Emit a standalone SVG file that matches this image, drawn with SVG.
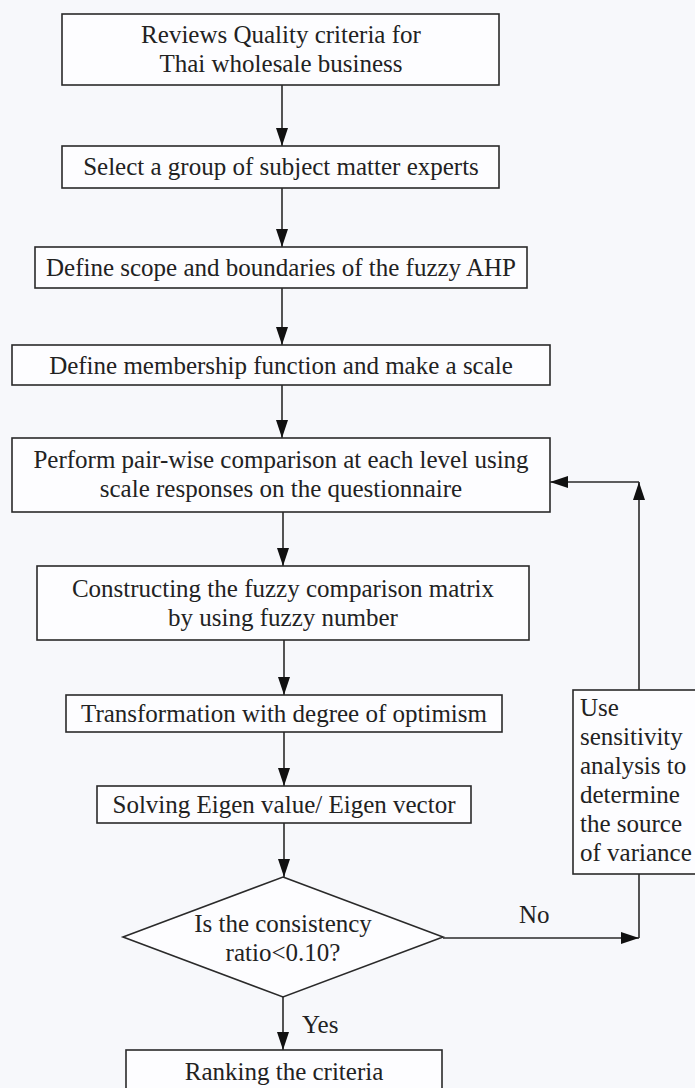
<svg xmlns="http://www.w3.org/2000/svg" width="695" height="1088" viewBox="0 0 695 1088">
<defs>
<style>
.box{fill:#fdfdff;stroke:#2a2a2a;stroke-width:1.6}
.t{font-family:"Liberation Serif","Times New Roman",serif;font-size:25px;fill:#222;text-anchor:middle}
.tl{font-family:"Liberation Serif","Times New Roman",serif;font-size:25px;fill:#222}
.ln{fill:none;stroke:#2a2a2a;stroke-width:1.6}
</style>
<marker id="ah" markerWidth="18" markerHeight="12" refX="18" refY="6" orient="auto" markerUnits="userSpaceOnUse">
<path d="M0,0 L18,6 L0,12 Z" fill="#111"/>
</marker>
</defs>
<rect width="695" height="1088" fill="#f7f8fb"/>
<g id="connectors">
<line class="ln" x1="282" y1="85" x2="282" y2="146" marker-end="url(#ah)"/>
<line class="ln" x1="282" y1="188" x2="282" y2="247" marker-end="url(#ah)"/>
<line class="ln" x1="282" y1="288" x2="282" y2="345" marker-end="url(#ah)"/>
<line class="ln" x1="282" y1="385" x2="282" y2="438" marker-end="url(#ah)"/>
<line class="ln" x1="283" y1="512" x2="283" y2="566" marker-end="url(#ah)"/>
<line class="ln" x1="284" y1="640" x2="284" y2="695" marker-end="url(#ah)"/>
<line class="ln" x1="284" y1="732" x2="284" y2="786" marker-end="url(#ah)"/>
<line class="ln" x1="284" y1="823" x2="284" y2="877" marker-end="url(#ah)"/>
<line class="ln" x1="283" y1="997" x2="283" y2="1050" marker-end="url(#ah)"/>
<line class="ln" x1="443" y1="938" x2="639" y2="938" marker-end="url(#ah)"/>
<line class="ln" x1="639" y1="938" x2="639" y2="874"/>
<line class="ln" x1="639" y1="690" x2="639" y2="482" marker-end="url(#ah)"/>
<line class="ln" x1="639" y1="482" x2="550" y2="482" marker-end="url(#ah)"/>
<text class="tl" x="519" y="923">No</text>
<text class="tl" x="302" y="1033">Yes</text>
</g>
<g id="n1"><rect class="box" x="62" y="14" width="437" height="71"/>
<text class="t" x="281" y="43">Reviews Quality criteria for</text>
<text class="t" x="281" y="72">Thai wholesale business</text></g>
<g id="n2"><rect class="box" x="62" y="146" width="437" height="42"/>
<text class="t" x="281" y="175">Select a group of subject matter experts</text></g>
<g id="n3"><rect class="box" x="35" y="247" width="492" height="41"/>
<text class="t" x="281" y="276">Define scope and boundaries of the fuzzy AHP</text></g>
<g id="n4"><rect class="box" x="12" y="345" width="538" height="40"/>
<text class="t" x="281" y="374">Define membership function and make a scale</text></g>
<g id="n5"><rect class="box" x="12" y="438" width="538" height="74"/>
<text class="t" x="281" y="468">Perform pair-wise comparison at each level using</text>
<text class="t" x="281" y="497">scale responses on the questionnaire</text></g>
<g id="n6"><rect class="box" x="37" y="566" width="492" height="74"/>
<text class="t" x="283" y="597">Constructing the fuzzy comparison matrix</text>
<text class="t" x="283" y="626">by using fuzzy number</text></g>
<g id="n7"><rect class="box" x="66" y="695" width="436" height="37"/>
<text class="t" x="284" y="722">Transformation with degree of optimism</text></g>
<g id="n8"><rect class="box" x="97" y="786" width="374" height="37"/>
<text class="t" x="284" y="813">Solving Eigen value/ Eigen vector</text></g>
<g id="n9"><polygon class="box" points="283,877 443,937 283,997 123,937"/>
<text class="t" x="283" y="932">Is the consistency</text>
<text class="t" x="283" y="961">ratio&lt;0.10?</text></g>
<g id="n10"><rect class="box" x="126" y="1050" width="316" height="50"/>
<text class="t" x="284" y="1080">Ranking the criteria</text></g>
<g id="n11"><rect class="box" x="573" y="690" width="130" height="184"/>
<text class="tl" x="580" y="716">Use</text>
<text class="tl" x="580" y="745">sensitivity</text>
<text class="tl" x="580" y="774">analysis to</text>
<text class="tl" x="580" y="803">determine</text>
<text class="tl" x="580" y="832">the source</text>
<text class="tl" x="580" y="861">of variance</text></g>
</svg>
